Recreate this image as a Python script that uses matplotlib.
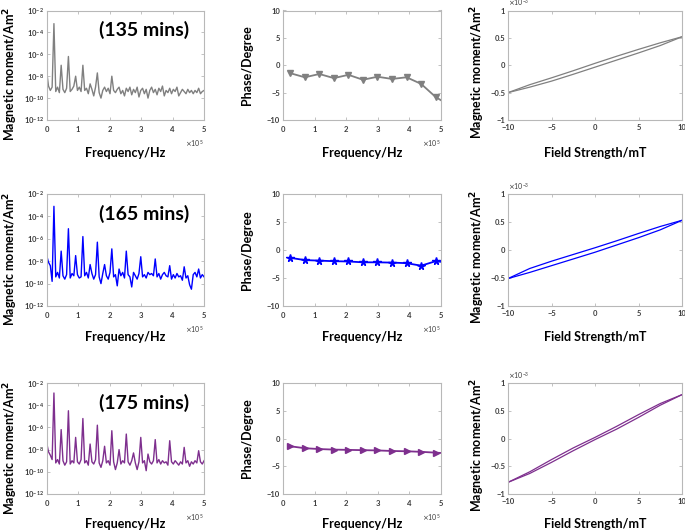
import numpy as np
import matplotlib
matplotlib.use('Agg')
import matplotlib.pyplot as plt
from matplotlib.ticker import ScalarFormatter

plt.rcParams['font.family'] = ['Lato', 'DejaVu Sans']

# frequency bins of the spectra (Hz)
freq_bins = np.arange(88) * 5750.0

# log10 of magnetic moment amplitude (Am^2) per bin
spec_135 = [-7.6, -8.9, -9.3, -9.0, -3.2, -9.4, -9.0, -9.5, -7.0, -9.2, -9.5, -9.1,
            -6.2, -9.4, -9.2, -8.9, -8.0, -9.3, -9.0, -9.4, -7.0, -9.3, -9.1, -9.6,
            -8.7, -9.2, -9.8, -9.0, -7.7, -9.5, -10.0, -9.3, -9.0, -9.4, -9.1, -9.6,
            -8.0, -9.3, -9.5, -9.2, -9.0, -9.6, -9.3, -9.8, -9.1, -9.4, -9.0, -9.7,
            -9.2, -9.5, -9.0, -9.9, -9.3, -9.1, -9.6, -9.2, -10.0, -9.3, -9.0, -9.5,
            -9.2, -9.7, -9.1, -9.4, -8.9, -9.8, -9.3, -9.5, -9.1, -9.6, -9.2, -9.4,
            -9.0, -9.8, -9.5, -9.2, -9.4, -9.6, -9.2, -9.5, -9.3, -9.6, -9.3, -9.5,
            -9.1, -9.6, -9.4, -9.3]
spec_165 = [-7.5, -8.1, -8.4, -9.8, -3.1, -9.4, -9.0, -9.5, -7.1, -9.3, -9.6, -9.2,
            -5.1, -9.5, -9.1, -9.3, -7.5, -9.2, -9.5, -9.4, -5.8, -9.3, -9.0, -9.5,
            -8.3, -9.1, -9.6, -9.2, -6.3, -9.4, -10.0, -9.1, -8.3, -9.3, -9.6, -9.0,
            -6.9, -9.4, -9.2, -10.2, -8.7, -9.3, -9.0, -9.5, -7.1, -9.2, -9.4, -10.3,
            -9.0, -9.3, -9.6, -9.1, -7.6, -9.4, -9.2, -9.5, -9.0, -9.2, -9.1, -9.3,
            -7.8, -9.4, -9.1, -9.6, -9.2, -9.0, -9.3, -9.4, -8.4, -9.6, -9.2, -9.5,
            -9.1, -9.4, -9.3, -9.7, -8.5, -9.5, -9.3, -10.1, -10.5, -9.2, -9.0, -9.4,
            -8.7, -9.5, -9.2, -9.4]
spec_175 = [-7.4, -8.2, -8.5, -8.9, -2.9, -9.2, -8.9, -9.3, -6.2, -9.0, -9.4, -9.1,
            -4.5, -9.3, -9.0, -9.2, -6.9, -9.1, -9.3, -8.9, -5.2, -9.2, -9.0, -9.4,
            -7.5, -9.1, -9.3, -8.9, -5.8, -9.2, -9.6, -9.0, -7.7, -9.2, -9.0, -9.4,
            -6.3, -9.1, -9.8, -9.2, -8.0, -9.3, -9.0, -9.2, -6.6, -9.1, -9.4, -9.0,
            -8.3, -9.2, -9.8, -9.1, -6.9, -9.2, -9.0, -9.9, -8.4, -9.1, -9.3, -9.0,
            -7.1, -9.2, -8.9, -9.3, -9.0, -9.2, -9.1, -9.4, -7.2, -9.1, -9.3, -9.0,
            -9.2, -9.4, -9.1, -9.3, -7.8, -9.2, -9.0, -9.5, -9.1, -9.3, -9.0, -9.2,
            -8.1, -9.1, -9.3, -9.0]

# phase at odd harmonics
harm_freq = [23000, 69000, 115000, 161000, 207000, 253000, 299000, 345000,
             391000, 437000, 483000, 529000]
phase_135 = [-1.45, -2.2, -1.6, -2.35, -1.75, -2.65, -2.1, -2.5, -2.2, -3.4, -5.8, -7.4]
phase_165 = [-1.4, -1.8, -1.9, -2.0, -2.05, -2.2, -2.2, -2.25, -2.35, -2.8, -2.0, -2.3]
phase_175 = [-1.4, -1.75, -1.9, -2.0, -2.05, -2.1, -2.15, -2.25, -2.3, -2.4, -2.55, -2.7]

# hysteresis loops, moment in 1e-3 Am^2
field = [-10, -7.5, -5, -2.5, 0, 2.5, 5, 7.5, 10]
loop_up_135 = [-0.50, -0.355, -0.23, -0.10, 0.035, 0.165, 0.29, 0.41, 0.52]
loop_dn_135 = [-0.50, -0.40, -0.29, -0.165, -0.035, 0.095, 0.225, 0.36, 0.52]
loop_up_165 = [-0.51, -0.33, -0.20, -0.08, 0.04, 0.165, 0.295, 0.42, 0.53]
loop_dn_165 = [-0.51, -0.40, -0.28, -0.16, -0.04, 0.09, 0.22, 0.36, 0.53]
loop_up_175 = [-0.79, -0.60, -0.38, -0.17, 0.02, 0.22, 0.43, 0.63, 0.79]
loop_dn_175 = [-0.79, -0.63, -0.43, -0.22, -0.02, 0.17, 0.38, 0.60, 0.79]

labels = ['(135 mins)', '(165 mins)', '(175 mins)']
colors = ['#808080', '#0000ff', '#7e2f8e']
markers = ['v', '*', '>']
specs = [spec_135, spec_165, spec_175]
phases = [phase_135, phase_165, phase_175]
loops = [(loop_up_135, loop_dn_135), (loop_up_165, loop_dn_165), (loop_up_175, loop_dn_175)]


class MatlabFormatter(ScalarFormatter):
    # like matlab: "0.5", "1" instead of "0.5", "1.0"
    def _set_format(self):
        self.format = '%g'


fig = plt.figure(figsize=(6.85, 5.31), dpi=100)
W, H = 685.0, 531.0
rows_px = [(10.5, 120), (194, 306), (383, 494)]
cols_px = [(46.7, 204), (283, 441), (508, 682)]
xlab_off = [-0.245, -0.22, -0.216]
lab_fs = 9

def style(ax):
    for s in ax.spines.values():
        s.set_color('#b8b8b8')
        s.set_linewidth(0.8)
    ax.tick_params(direction='in', length=2, width=0.6, color='#b8b8b8',
                   labelsize=5.5, labelcolor='#3c3c3c', pad=2,
                   top=True, right=True)
    ax.tick_params(axis='x', pad=3)
    for t in ax.get_xticklabels() + ax.get_yticklabels():
        t.set_fontweight('bold')

for r in range(3):
    top, bot = rows_px[r]
    axs = []
    for c in range(3):
        l, rr = cols_px[c]
        axs.append(fig.add_axes([l / W, 1 - bot / H, (rr - l) / W, (bot - top) / H]))
    a1, a2, a3 = axs

    # spectrum
    a1.semilogy(freq_bins, 10 ** np.array(specs[r]), color=colors[r], lw=1.0)
    a1.set_xlim(0, 5e5)
    a1.set_ylim(1e-12, 1e-2)
    a1.set_yticks([1e-12, 1e-10, 1e-8, 1e-6, 1e-4, 1e-2])
    a1.minorticks_off()
    a1.set_xticks([0, 1e5, 2e5, 3e5, 4e5, 5e5])
    a1.ticklabel_format(axis='x', style='sci', scilimits=(0, 0), useMathText=True)
    a1.text(0.62, 0.82, labels[r], transform=a1.transAxes, ha='center', va='center',
            fontsize=14, fontweight='bold')
    a1.set_ylabel('Magnetic moment/Am$^\\mathbf{2}$', fontsize=lab_fs, fontweight='bold')
    a1.yaxis.set_label_coords(-0.17, 0.42)

    # phase
    a2.plot(harm_freq, phases[r], color=colors[r], lw=1.3, marker=markers[r],
            markersize=4 if markers[r] != '*' else 5.5)
    a2.set_xlim(0, 5e5)
    a2.set_ylim(-10, 10)
    a2.set_yticks([-10, -5, 0, 5, 10])
    a2.set_xticks([0, 1e5, 2e5, 3e5, 4e5, 5e5])
    a2.ticklabel_format(axis='x', style='sci', scilimits=(0, 0), useMathText=True)
    a2.set_ylabel('Phase/Degree', fontsize=lab_fs, fontweight='bold')
    a2.yaxis.set_label_coords(-0.19, 0.5)

    # hysteresis
    up, dn = loops[r]
    a3.plot(field, np.array(up) * 1e-3, color=colors[r], lw=0.9)
    a3.plot(field, np.array(dn) * 1e-3, color=colors[r], lw=0.9)
    a3.set_xlim(-10, 10)
    a3.set_ylim(-1e-3, 1e-3)
    a3.set_xticks([-10, -5, 0, 5, 10])
    a3.set_yticks([-1e-3, -0.5e-3, 0, 0.5e-3, 1e-3])
    fmt = MatlabFormatter(useMathText=True)
    fmt.set_powerlimits((0, 0))
    a3.yaxis.set_major_formatter(fmt)
    a3.set_ylabel('Magnetic moment/Am$^\\mathbf{2}$', fontsize=lab_fs, fontweight='bold')
    a3.yaxis.set_label_coords(-0.12, 0.44)

    for ax, xl in zip(axs, ['Frequency/Hz', 'Frequency/Hz', 'Field Strength/mT']):
        ax.set_xlabel(xl, fontsize=lab_fs, fontweight='bold')
        ax.xaxis.set_label_coords(0.5, xlab_off[r])
        style(ax)
        ax.xaxis.get_offset_text().set_fontsize(5)
        ax.yaxis.get_offset_text().set_fontsize(5)
        ax.xaxis.get_offset_text().set_color('#3c3c3c')
        ax.yaxis.get_offset_text().set_color('#3c3c3c')

fig.savefig('out.png', dpi=100)
